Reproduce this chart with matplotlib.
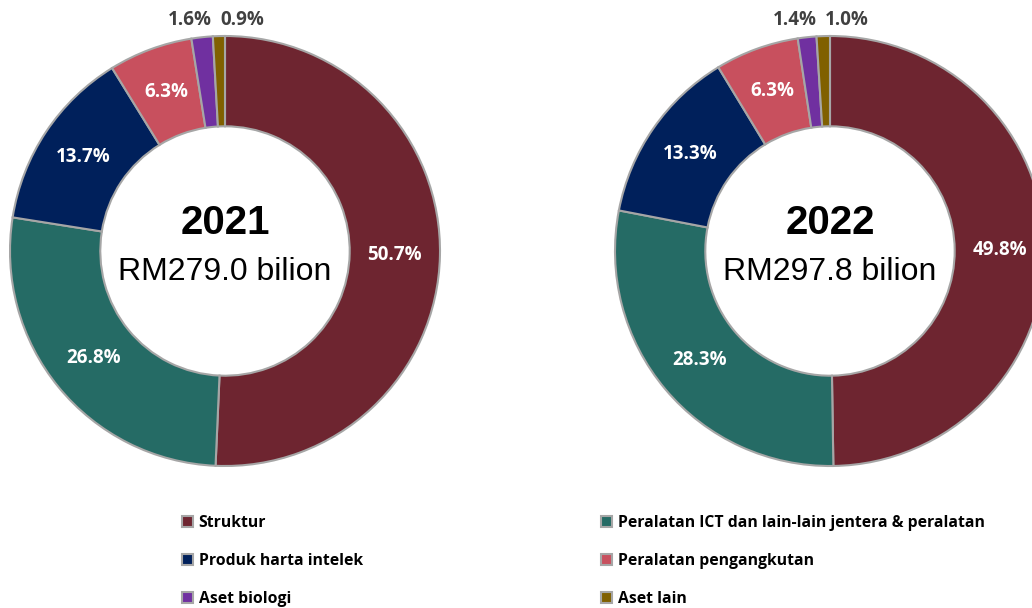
import numpy as np
import matplotlib
matplotlib.use("Agg")
import matplotlib.pyplot as plt
from matplotlib.patches import Patch

#-----------------------------------------------------------------------------

categories = ["Struktur", "Peralatan ICT dan lain-lain jentera & peralatan",
              "Produk harta intelek", "Peralatan pengangkutan",
              "Aset biologi", "Aset lain"]
colors = ["#6E2530", "#256B65", "#00205B", "#C8505E", "#7030A0", "#806000"]

years = ["2021", "2022"]
totals = ["RM279.0 bilion", "RM297.8 bilion"]
share_2021 = [50.7, 26.8, 13.7, 6.3, 1.6, 0.9]
share_2022 = [49.8, 28.3, 13.3, 6.3, 1.4, 1.0]
shares = [share_2021, share_2022]

W, H = 1032, 608
fig = plt.figure(figsize=(W / 100, H / 100), dpi=100)

centers_px = [(225, 251), (830, 251)]   # pusat donut dalam piksel
r_px = 215
ring = 0.42

#-----------------------------------------------------------------------------

for (cx, cy), year, total, vals in zip(centers_px, years, totals, shares):
    ax = fig.add_axes([(cx - r_px) / W, (H - cy - r_px) / H, 2 * r_px / W, 2 * r_px / H])
    wedges, _ = ax.pie(vals, colors=colors, startangle=90, counterclock=False,
                       radius=1, wedgeprops=dict(width=ring, edgecolor="#A6A6A6", linewidth=1.5))
    ax.set_xlim(-1, 1)
    ax.set_ylim(-1, 1)
    ax.axis("off")

    for i, (w, v) in enumerate(zip(wedges, vals)):
        ang = np.deg2rad((w.theta1 + w.theta2) / 2)
        txt = f"{v:.1f}%"
        if v >= 3:
            rr = 1 - ring / 2
            ax.text(rr * np.cos(ang), rr * np.sin(ang), txt, color="white",
                    fontsize=13.5, fontweight="bold", family="Open Sans",
                    ha="center", va="center")
        else:
            x = np.cos(ang)
            if i == 4:
                ax.annotate(txt, (x, 1.0), xytext=(7, 4), textcoords="offset points",
                            ha="right", va="bottom", color="#404040", fontsize=13.5,
                            fontweight="bold", family="Open Sans", annotation_clip=False)
            else:
                ax.annotate(txt, (x, 1.0), xytext=(1, 4), textcoords="offset points",
                            ha="left", va="bottom", color="#404040", fontsize=13.5,
                            fontweight="bold", family="Open Sans", annotation_clip=False)

    ax.text(0, 0.13, year, ha="center", va="center", fontsize=29,
            fontweight="bold", family="Liberation Sans")
    ax.text(0, -0.10, total, ha="center", va="center", fontsize=23,
            family="Liberation Sans")

#-----------------------------------------------------------------------------

order = [0, 2, 4, 1, 3, 5]
handles = [Patch(facecolor=colors[i], edgecolor="#A6A6A6", linewidth=1.5) for i in order]
labels = [categories[i] for i in order]
leg = fig.legend(handles, labels, ncol=2, loc="center left",
                 bbox_to_anchor=(168 / W, 1 - 561 / H), frameon=False,
                 handlelength=0.7, handleheight=0.7, handletextpad=0.35,
                 columnspacing=15.2, labelspacing=1.38,
                 prop=dict(family="Open Sans", weight="bold", size=11.3))

fig.savefig("out.png", dpi=100)
